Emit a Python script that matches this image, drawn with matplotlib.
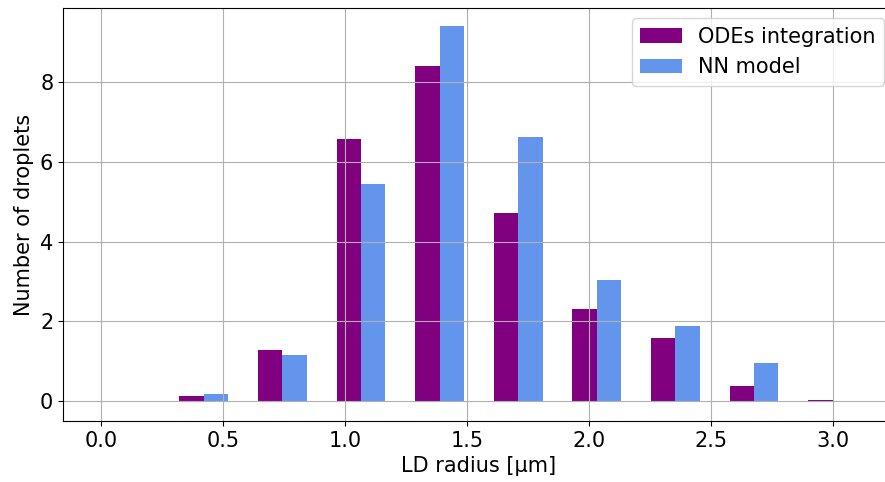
import matplotlib
matplotlib.use("Agg")
import matplotlib.pyplot as plt
import numpy as np

# left edges of the radius bins
bin_left = [0.0, 0.322, 0.644, 0.966, 1.288, 1.610, 1.932, 2.254, 2.576, 2.898]
ode_counts = [0.0, 0.13, 1.27, 6.57, 8.41, 4.71, 2.32, 1.59, 0.38, 0.03]
nn_counts = [0.0, 0.17, 1.16, 5.44, 9.40, 6.63, 3.04, 1.88, 0.96, 0.0]
bar_w = 0.1

plt.rcParams['font.size'] = 15

fig = plt.figure(figsize=(8.85, 4.82), dpi=100)
ax = fig.add_axes([0.0712, 0.1266, 0.9398, 0.8568])

x = np.array(bin_left)
ax.bar(x, ode_counts, width=bar_w, align='edge', color='purple', label='ODEs integration')
ax.bar(x + bar_w, nn_counts, width=bar_w, align='edge', color='cornflowerblue', label='NN model')

ax.set_ylim(-0.5, 9.86)
ax.set_xlabel('LD radius [µm]')
ax.set_ylabel('Number of droplets')
ax.grid(True)
ax.legend(loc='upper right')

fig.savefig('out.png', dpi=100)
